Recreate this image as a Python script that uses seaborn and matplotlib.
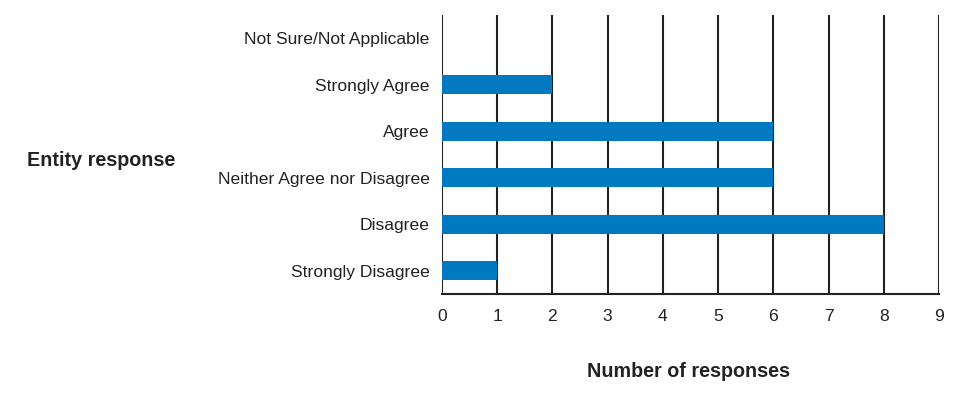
import matplotlib
matplotlib.use("Agg")
import matplotlib.pyplot as plt
import seaborn as sns
import pandas as pd

# данные
categories = ["Not Sure/Not Applicable", "Strongly Agree", "Agree",
              "Neither Agree nor Disagree", "Disagree", "Strongly Disagree"]
responses = [0, 2, 6, 6, 8, 1]
x_ticks = list(range(0, 10))

df = pd.DataFrame({"category": categories, "count": responses})

sns.set_style("white")
plt.rcParams['font.family'] = ['Liberation Sans', 'DejaVu Sans']

fig = plt.figure(figsize=(9.73, 3.99), dpi=100)
ax = fig.add_axes([0.4543, 0.263, 0.965 - 0.4543, 0.962 - 0.263])

sns.barplot(data=df, y="category", x="count", orient="h", color="#0079C1",
            saturation=1, width=0.41, linewidth=0, ax=ax, zorder=3)

ax.set_xlim(0, 9)
ax.set_ylim(5.5, -0.5)
ax.set_xticks(x_ticks)
ax.xaxis.grid(True, color="#222222", linewidth=1.5, zorder=0)
ax.set_axisbelow(True)
for s in ["top", "right", "left"]:
    ax.spines[s].set_visible(False)
ax.spines["bottom"].set_color("#222222")
ax.spines["bottom"].set_linewidth(1.5)
ax.tick_params(axis="both", length=0, labelsize=12.6, colors="#222222")
ax.tick_params(axis="y", pad=9)
ax.tick_params(axis="x", pad=11)
ax.set_xlabel("")
ax.set_ylabel("")

fig.text(0.028, 0.598, "Entity response", fontsize=14.2, fontweight="bold",
         color="#222222", va="center", ha="left")
fig.text(0.708, 0.07, "Number of responses", fontsize=14.2, fontweight="bold",
         color="#222222", va="center", ha="center")

fig.savefig("out.png", dpi=100)
